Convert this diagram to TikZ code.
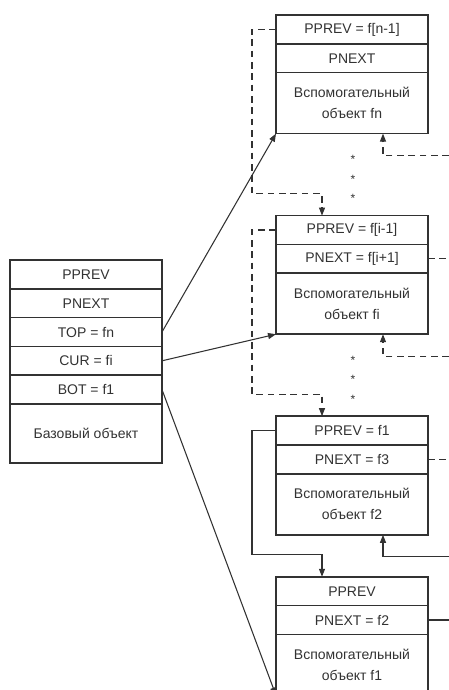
\documentclass[tikz,border=0pt]{standalone}
\usepackage{fontspec}
\setmainfont{Liberation Sans}
\usetikzlibrary{arrows.meta,positioning,calc}
\definecolor{linegray}{RGB}{50,50,50}

\begin{document}
\begin{tikzpicture}[x=0.75pt, y=-0.75pt,
  row/.style={draw=linegray, line width=1.1pt, minimum width=114pt, minimum height=21.6pt,
              inner sep=0pt, outer sep=0pt, text=linegray, font=\fontsize{10.5}{12}\selectfont},
  body/.style={row, minimum height=45.75pt, align=center, font=\fontsize{10.5}{15.8}\selectfont},
  arr/.style={-{Triangle[length=6pt,width=4.5pt]}, line width=0.8pt, color=linegray},
  dlink/.style={line width=0.8pt, color=linegray, dash pattern=on 5pt off 3.5pt},
  dots/.style={font=\fontsize{9}{9}\selectfont, text=linegray, inner sep=0pt}
]
  \useasboundingbox (0,0) rectangle (449,690);
  % base object
  \node[row, anchor=north west] (bprev) at (10,260) {PPREV};
  \node[row, below=0pt of bprev] (bnext) {PNEXT};
  \node[row, below=0pt of bnext] (btop) {TOP = fn};
  \node[row, below=0pt of btop] (bcur) {CUR = fi};
  \node[row, below=0pt of bcur] (bbot) {BOT = f1};
  \node[body, minimum height=44.25pt, below=0pt of bbot] (bbody) {Базовый объект};
  % helper objects
  \node[row, anchor=north west] (fnprev) at (276,15) {PPREV = f[n-1]};
  \node[row, below=0pt of fnprev] (fnnext) {PNEXT};
  \node[body, below=0pt of fnnext] (fnbody) {Вспомогательный\\объект fn};
  \node[row, below=61.5pt of fnbody] (fiprev) {PPREV = f[i-1]};
  \node[row, below=0pt of fiprev] (finext) {PNEXT = f[i+1]};
  \node[body, below=0pt of finext] (fibody) {Вспомогательный\\объект fi};
  \node[row, below=61.5pt of fibody] (f2prev) {PPREV = f1};
  \node[row, below=0pt of f2prev] (f2next) {PNEXT = f3};
  \node[body, below=0pt of f2next] (f2body) {Вспомогательный\\объект f2};
  \node[row, below=31.5pt of f2body] (f1prev) {PPREV};
  \node[row, below=0pt of f1prev] (f1next) {PNEXT = f2};
  \node[body, below=0pt of f1next] (f1body) {Вспомогательный\\объект f1};
  % dots between objects
  \foreach \k in {0,1,2} {
    \node[dots] (fnstar\k) at ($(fnbody.south)+(1,26+19.5*\k)$) {*};
    \node[dots] (fistar\k) at ($(fibody.south)+(1,26+19.5*\k)$) {*};
  }
  % free ends at the right edge
  \coordinate (fnin) at ($(fnbody.south)+(97,22)$);
  \coordinate (fiin) at ($(fibody.south)+(97,22)$);
  \coordinate (f2in) at ($(f2body.south)+(97,22)$);
  \coordinate (fiout) at ($(finext.east)+(21,0)$);
  \coordinate (f2out) at ($(f2next.east)+(21,0)$);
  \coordinate (f1out) at ($(f1next.east)+(21,0)$);
  % pointers from the base object
  \draw[arr] (btop.east) -- (fnbody.south west);
  \draw[arr] (bcur.east) -- (fibody.south west);
  \draw[arr] (bbot.east) -- (f1body.south west);
  % links between helper objects
  \draw[arr, dlink] (fnprev.west) -- ++(-24,0) |- ($(fiprev.north)+(-30,-22)$) -- ($(fiprev.north)+(-30,0)$);
  \draw[arr, dlink] (fiprev.west) -- ++(-24,0) |- ($(f2prev.north)+(-30,-22)$) -- ($(f2prev.north)+(-30,0)$);
  \draw[arr] (f2prev.west) -- ++(-24,0) |- ($(f1prev.north)+(-30,-22)$) -- ($(f1prev.north)+(-30,0)$);
  \draw[arr, dlink] (fnin) -| ($(fnbody.south)+(31,0)$);
  \draw[arr, dlink] (fiin) -| ($(fibody.south)+(31,0)$);
  \draw[arr] (f2in) -| ($(f2body.south)+(31,0)$);
  \draw[dlink] (finext.east) -- (fiout);
  \draw[dlink] (f2next.east) -- (f2out);
  \draw[line width=0.8pt, color=linegray] (f1next.east) -- (f1out);
\end{tikzpicture}
\end{document}
